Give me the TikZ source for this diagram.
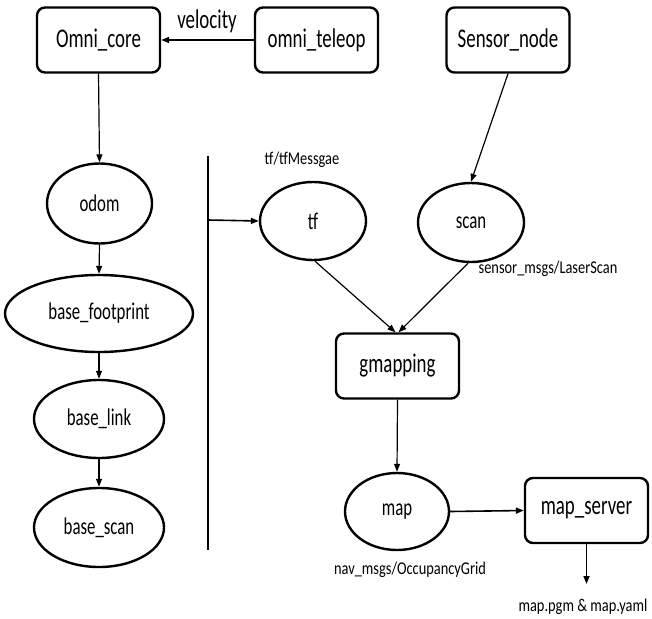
\documentclass[tikz,border=0pt]{standalone}
\usepackage{fontspec}
\setmainfont{Carlito}[FakeStretch=0.7]
\newfontfamily\labfont{Carlito}[FakeStretch=0.8]
\usetikzlibrary{arrows.meta,shapes.geometric}
\tikzset{
  box/.style={draw, line width=2.4pt, rounded corners=8pt, minimum width=123pt, minimum height=65pt, inner sep=0pt, font=\fontsize{27}{32}\selectfont},
  oval/.style={draw, ellipse, line width=2.4pt, inner sep=0pt, font=\fontsize{24}{28}\selectfont},
  lab/.style={inner sep=0pt, font=\labfont\fontsize{18}{22}\selectfont},
  conn/.style={line width=1.2pt, -{Triangle[length=8pt,width=6pt]}},
}
\begin{document}
\begin{tikzpicture}[x=1pt,y=-1pt]
\useasboundingbox (0,0) rectangle (652,618);
% boxes
\node[box] (core) at (98.5,40) {Omni\_core};
\node[box] (teleop) at (316.5,40) {omni\_teleop};
\node[box] (sensor) at (508,40) {Sensor\_node};
\node[box] (gmap) at (397.5,366) {gmapping};
\node[box] (mapsrv) at (586.5,510.5) {map\_server};
% ellipses
\node[oval, minimum width=105pt, minimum height=80pt] (odom) at (99.5,203.5) {odom};
\node[oval, minimum width=188pt, minimum height=77pt] (foot) at (99,313.5) {base\_footprint};
\node[oval, minimum width=130pt, minimum height=78pt] (link) at (99,419) {base\_link};
\node[oval, minimum width=130pt, minimum height=79pt] (bscan) at (99,527.5) {base\_scan};
\node[oval, minimum width=106pt, minimum height=78pt] (tf) at (313,221) {tf};
\node[oval, minimum width=106pt, minimum height=79pt] (scan) at (471,222.5) {scan};
\node[oval, minimum width=104pt, minimum height=77pt] (map) at (397,511.5) {map};
% labels
\node[inner sep=0pt, font=\fontsize{27}{32}\selectfont] (vel) at (207,21) {velocity};
\node[lab] (tfmsg) at (302,160) {tf/tfMessgae};
\node[lab] (laser) at (548,269) {sensor\_msgs/LaserScan};
\node[lab] (occ) at (410,570) {nav\_msgs/OccupancyGrid};
\node[lab] (files) at (583,607) {map.pgm \& map.yaml};
% vertical bar
\coordinate (bartop) at (208,156);
\coordinate (barbot) at (208,550);
\coordinate (barmid) at (208,220);
\draw[line width=2pt] (bartop) -- (barbot);
\coordinate (out) at (586.5,584);
% connectors
\draw[conn, line width=1.6pt] (teleop.west) -- (core.east);
\draw[conn] (core.south) -- (odom.north);
\draw[conn] (odom.south) -- (foot.north);
\draw[conn] (foot.south) -- (link.north);
\draw[conn] (link.south) -- (bscan.north);
\draw[conn, line width=1.6pt] (barmid) -- (tf.west);
\draw[conn] (sensor.south) -- (scan.north);
\draw[conn] (tf.south) ++(2,0) -- ([xshift=-2pt]gmap.north);
\draw[conn] (scan.south) ++(-3,0) -- ([xshift=1pt]gmap.north);
\draw[conn] (gmap.south) -- (map.north);
\draw[conn, line width=1.6pt] (map.east) -- (mapsrv.west);
\draw[conn, line width=1.6pt] (mapsrv.south) -- (out);
\end{tikzpicture}
\end{document}
